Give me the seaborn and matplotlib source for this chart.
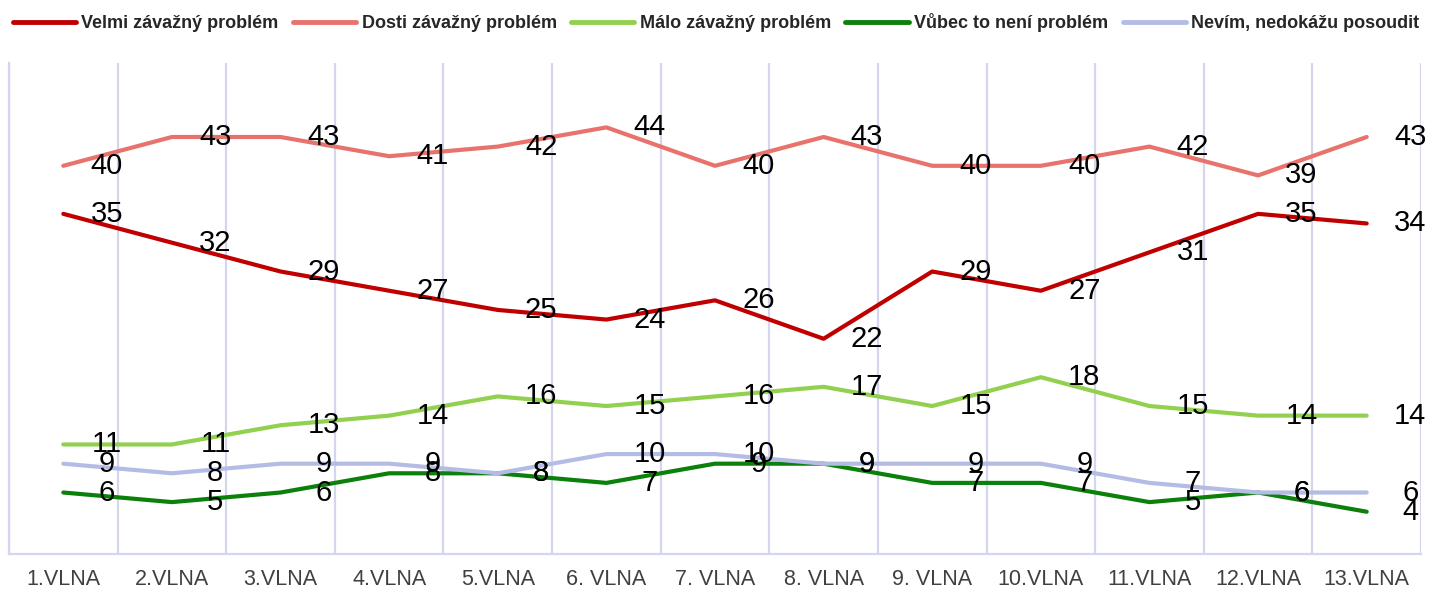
#!/usr/bin/env python
import matplotlib.pyplot as plt
import pandas as pd
import seaborn as sns
from matplotlib.lines import Line2D

waves = ["1.VLNA", "2.VLNA", "3.VLNA", "4.VLNA", "5.VLNA", "6. VLNA", "7. VLNA",
         "8. VLNA", "9. VLNA", "10.VLNA", "11.VLNA", "12.VLNA", "13.VLNA"]

velmi = [35, 32, 29, 27, 25, 24, 26, 22, 29, 27, 31, 35, 34]
dosti = [40, 43, 43, 41, 42, 44, 40, 43, 40, 40, 42, 39, 43]
malo = [11, 11, 13, 14, 16, 15, 16, 17, 15, 18, 15, 14, 14]
vubec = [6, 5, 6, 8, 8, 7, 9, 9, 7, 7, 5, 6, 4]
nevim = [9, 8, 9, 9, 8, 10, 10, 9, 9, 9, 7, 6, 6]

series_names = ["Velmi závažný problém", "Dosti závažný problém", "Málo závažný problém",
                "Vůbec to není problém", "Nevím, nedokážu posoudit"]
series_colors = ["#C00000", "#E8736D", "#92D050", "#0B800B", "#B4BCE5"]


def start():
    df = pd.DataFrame({"wave": range(len(waves))})
    for name, vals in zip(series_names, [velmi, dosti, malo, vubec, nevim]):
        df[name] = vals
    long = df.melt(id_vars="wave", var_name="series", value_name="value")

    sns.set_style("white")
    plt.rcParams["font.family"] = ["Liberation Sans", "DejaVu Sans"]
    grid_color = "#D3D6EE"

    fig = plt.figure(figsize=(14.32, 5.89), dpi=100)
    ax = fig.add_axes([9 / 1432, 1 - 554 / 589, 1412 / 1432, 491 / 589])

    sns.lineplot(
        data=long,
        x="wave",
        y="value",
        hue="series",
        hue_order=series_names,
        palette=dict(zip(series_names, series_colors)),
        linewidth=3,
        legend=False,
        sort=False,
        ax=ax,
    )

    # value labels sit to the right of each point, like the original export
    for row in long.itertuples():
        ax.text(row.wave + 0.4, row.value, str(row.value), ha="center", va="center",
                fontsize=21, color="black")

    ax.set_xlim(-0.5, len(waves) - 0.5)
    ax.set_ylim(-0.4, 50.7)
    ax.set_xticks(range(len(waves)))
    ax.set_xticklabels(waves, fontsize=15.5, color="#404040")
    ax.set_xticks([i - 0.5 for i in range(len(waves) + 1)], minor=True)
    ax.tick_params(axis="x", which="major", length=0, pad=11)
    ax.tick_params(axis="x", which="minor", length=5, width=1.6, color=grid_color)
    ax.set_yticks([])
    ax.grid(which="minor", axis="x", color=grid_color, linewidth=1.6)
    ax.set_xlabel("")
    ax.set_ylabel("")
    sns.despine(ax=ax, right=True, top=True)
    for side in ["left", "bottom"]:
        ax.spines[side].set_color(grid_color)
        ax.spines[side].set_linewidth(1.6)

    handles = [Line2D([], [], color=c, linewidth=3.5) for c in series_colors]
    fig.legend(handles, series_names, loc="upper center", bbox_to_anchor=(0.5, 1.005),
               ncol=5, frameon=False, prop={"weight": "bold", "size": 13},
               handlelength=3.5, handletextpad=0.3, columnspacing=0.8)

    plt.savefig("out.png", dpi=100)
    plt.clf()


if __name__ == "__main__":
    start()
